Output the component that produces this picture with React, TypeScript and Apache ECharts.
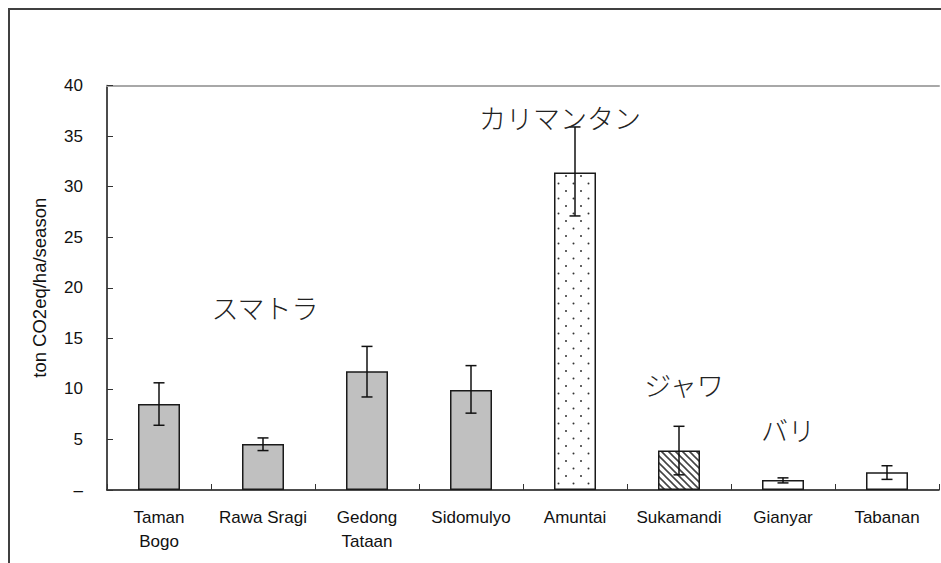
import React, { useEffect, useRef } from "react";
import * as echarts from "echarts";

const categories = ["Taman\nBogo", "Rawa Sragi", "Gedong\nTataan", "Sidomulyo", "Amuntai", "Sukamandi", "Gianyar", "Tabanan"];
const values = [8.5, 4.55, 11.75, 9.9, 31.4, 3.9, 1.0, 1.75];
const errLow = [6.4, 3.9, 9.2, 7.6, 27.1, 1.5, 0.7, 1.05];
const errHigh = [10.6, 5.15, 14.2, 12.3, 35.9, 6.3, 1.2, 2.4];
const yTicks = [0, 5, 10, 15, 20, 25, 30, 35, 40];
const regionLabels = ["スマトラ", "カリマンタン", "ジャワ", "バリ"];
// fill kind per bar: gray (Sumatra), dots (Kalimantan), hatch (Java), white (Bali)
const fillKind = ["gray", "gray", "gray", "gray", "dots", "hatch", "white", "white"];

function makeDots() {
  const c = document.createElement("canvas");
  c.width = 15;
  c.height = 15;
  const ctx = c.getContext("2d")!;
  ctx.fillStyle = "#ffffff";
  ctx.fillRect(0, 0, 15, 15);
  ctx.fillStyle = "#333333";
  ctx.beginPath();
  ctx.arc(3.5, 3.5, 1.0, 0, Math.PI * 2);
  ctx.fill();
  ctx.beginPath();
  ctx.arc(11, 11, 1.0, 0, Math.PI * 2);
  ctx.fill();
  return { image: c, repeat: "repeat", imageWidth: 15, imageHeight: 15 };
}

function makeHatch() {
  const s = 7;
  const c = document.createElement("canvas");
  c.width = s;
  c.height = s;
  const ctx = c.getContext("2d")!;
  ctx.fillStyle = "#ffffff";
  ctx.fillRect(0, 0, s, s);
  ctx.strokeStyle = "#444444";
  ctx.lineWidth = 1.6;
  ctx.beginPath();
  ctx.moveTo(-1, -1);
  ctx.lineTo(s + 1, s + 1);
  ctx.moveTo(s - 1, -1);
  ctx.lineTo(s + 1, 1);
  ctx.moveTo(-1, s - 1);
  ctx.lineTo(1, s + 1);
  ctx.stroke();
  return { image: c, repeat: "repeat", imageWidth: s, imageHeight: s };
}

export default function App() {
  const ref = useRef<HTMLDivElement>(null);
  useEffect(() => {
    if (!ref.current) return;
    const chart = echarts.init(ref.current, undefined, { renderer: "svg" });
    const dots = makeDots();
    const hatch = makeHatch();
    const fillFor = (k: string): any =>
      k === "gray" ? "#c0c0c0" : k === "dots" ? dots : k === "hatch" ? hatch : "#ffffff";

    const labelFont = "'Liberation Sans', Arial, sans-serif";
    const jpFont = "'Noto Sans CJK JP', sans-serif";
    const annoPos = [
      [265, 307],
      [560, 117],
      [684, 384],
      [788, 429],
    ];

    const option: any = {
      animation: false,
      backgroundColor: "#ffffff",
      grid: { left: 107, right: 2, top: 85.5, bottom: 73, containLabel: false },
      xAxis: [
        {
          type: "category",
          data: categories,
          boundaryGap: true,
          axisLine: { show: true, lineStyle: { color: "#111", width: 1.5 } },
          axisTick: { show: true, inside: true, length: 6, lineStyle: { color: "#333", width: 1 } },
          axisLabel: {
            interval: 0,
            margin: 16,
            fontSize: 17,
            lineHeight: 23.5,
            color: "#111",
            fontFamily: labelFont,
          },
        },
        {
          type: "category",
          data: categories,
          position: "top",
          axisLine: { show: true, lineStyle: { color: "#a8a8a8", width: 2 } },
          axisTick: { show: false },
          axisLabel: { show: false },
        },
      ],
      yAxis: {
        type: "value",
        min: yTicks[0],
        max: yTicks[yTicks.length - 1],
        interval: yTicks[1] - yTicks[0],
        name: "ton CO2eq/ha/season",
        nameLocation: "middle",
        nameGap: 58,
        nameTextStyle: { fontSize: 18.5, color: "#111", fontFamily: labelFont },
        axisLine: { show: true, lineStyle: { color: "#111", width: 1.5 } },
        axisTick: { show: true, inside: true, length: 6, lineStyle: { color: "#333", width: 1 } },
        splitLine: { show: false },
        axisLabel: {
          margin: 24,
          fontSize: 17,
          color: "#111",
          fontFamily: labelFont,
          formatter: (v: number) => (v === 0 ? "–" : String(v)),
        },
      },
      series: [
        {
          type: "bar",
          barWidth: 42,
          data: values.map((v, i) => ({
            value: v,
            itemStyle: { color: fillFor(fillKind[i]), borderColor: "#1a1a1a", borderWidth: 1.5 },
          })),
          z: 2,
        },
        {
          type: "custom",
          z: 5,
          data: categories.map((_, i) => [i, errLow[i], errHigh[i]]),
          encode: { x: 0, y: [1, 2] },
          renderItem: (params: any, api: any) => {
            const i = api.value(0);
            const lo = api.coord([i, api.value(1)]);
            const hi = api.coord([i, api.value(2)]);
            const hw = 5.5;
            const style = { stroke: "#111", lineWidth: 1.5, fill: null };
            return {
              type: "group",
              children: [
                { type: "line", shape: { x1: hi[0], y1: hi[1], x2: lo[0], y2: lo[1] }, style },
                { type: "line", shape: { x1: hi[0] - hw, y1: hi[1], x2: hi[0] + hw, y2: hi[1] }, style },
                { type: "line", shape: { x1: lo[0] - hw, y1: lo[1], x2: lo[0] + hw, y2: lo[1] }, style },
              ],
            };
          },
        },
      ],
      graphic: [
        {
          type: "rect",
          shape: { x: 9, y: 9, width: 1200, height: 1200 },
          style: { fill: "none", stroke: "#404040", lineWidth: 2 },
          silent: true,
          z: 0,
        },
        ...regionLabels.map((t, i) => ({
          type: "text",
          x: annoPos[i][0],
          y: annoPos[i][1],
          style: {
            text: t,
            fontSize: 27,
            fontWeight: 300,
            fontFamily: jpFont,
            fill: "#222",
            align: "center",
            verticalAlign: "middle",
          },
          z: 10,
        })),
      ],
    };
    chart.setOption(option);
    return () => chart.dispose();
  }, []);
  return (
    <div
      ref={ref}
      style={{ position: "fixed", left: 0, top: 0, width: 941, height: 563, background: "#fff" }}
    />
  );
}
